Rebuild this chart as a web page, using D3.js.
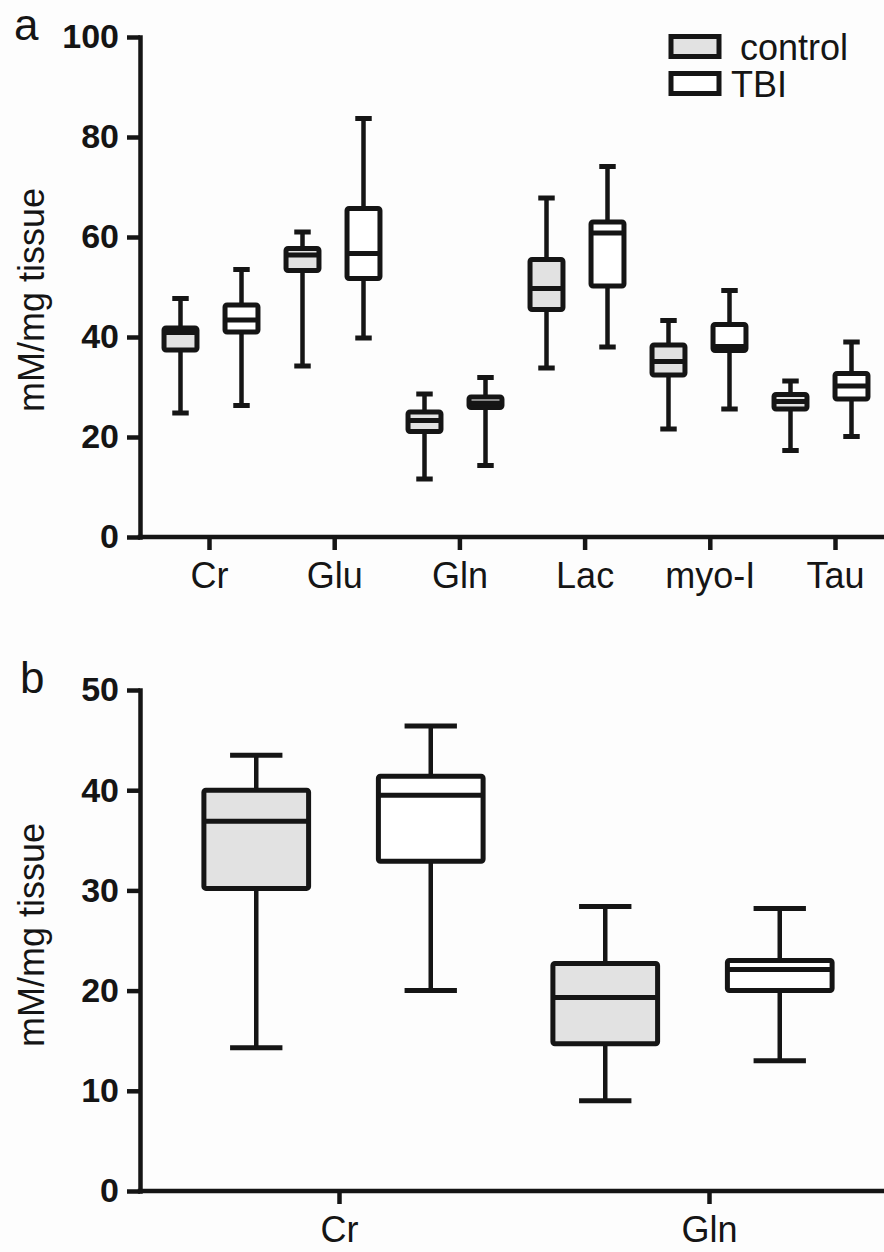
<!DOCTYPE html>
<html>
<head>
<meta charset="utf-8">
<script src="https://cdn.jsdelivr.net/npm/d3@7"></script>
<style>
  body { margin: 0; background: #fdfdfd; }
  svg { display: block; font-family: "Liberation Sans", Arial, sans-serif; }
  .axis path, .axis line { stroke: #151515; stroke-width: 4.5; }
  .axis .domain { stroke-linecap: square; }
  .y-axis text { font-size: 34px; font-weight: bold; fill: #151515; }
  .x-axis text { font-size: 36px; fill: #151515; }
  .axis-title { font-size: 36px; fill: #151515; }
  .panel-letter { font-size: 44px; fill: #151515; }
  .legend text { font-size: 36px; fill: #151515; }
</style>
</head>
<body>
<svg id="chart"></svg>
<script>
// each box is [min, q1, median, q3, max] in mM/mg tissue
const groups = ['control', 'TBI'];
const groupFill = { control: '#e2e2e2', TBI: '#ffffff' };

const categoriesA = ['Cr', 'Glu', 'Gln', 'Lac', 'myo-I', 'Tau'];
const controlA = [
  [24.8, 37.4, 40.9, 41.8, 47.7],
  [34.2, 53.3, 56.4, 57.7, 61.0],
  [11.6, 21.1, 23.3, 25.0, 28.6],
  [33.8, 45.5, 49.7, 55.5, 67.8],
  [21.6, 32.4, 35.1, 38.4, 43.3],
  [17.3, 25.6, 27.1, 28.5, 31.2]
];
const tbiA = [
  [26.3, 41.0, 43.4, 46.4, 53.5],
  [39.8, 51.7, 56.7, 65.7, 83.7],
  [14.3, 25.9, 26.8, 28.0, 31.9],
  [38.0, 50.2, 60.8, 63.0, 74.1],
  [25.6, 37.3, 38.1, 42.5, 49.3],
  [20.1, 27.6, 30.2, 32.7, 39.0]
];
const yTicksA = [0, 20, 40, 60, 80, 100];

const categoriesB = ['Cr', 'Gln'];
const controlB = [
  [14.3, 30.2, 36.9, 40.0, 43.5],
  [9.0, 14.7, 19.3, 22.7, 28.4]
];
const tbiB = [
  [20.0, 32.9, 39.5, 41.4, 46.4],
  [13.0, 20.0, 22.1, 23.0, 28.2]
];
const yTicksB = [0, 10, 20, 30, 40, 50];

class BoxPlot {

  constructor(_config, _data) {
    this.config = _config;
    this.data = _data;
    this.initVis();
  }

  initVis() {
    let vis = this;
    const c = vis.config;

    vis.chart = c.parentElement.append('g');

    vis.yScale = d3.scaleLinear()
      .domain(d3.extent(c.yTicks))
      .range([c.bottom, c.top]);

    // bands hold the box pairs, the point scale holds the category ticks
    vis.xBand = d3.scaleBand()
      .domain(c.categories)
      .range(c.bandRange);

    vis.xSub = d3.scaleBand()
      .domain(groups)
      .range([0, vis.xBand.bandwidth()]);

    vis.xTick = d3.scalePoint()
      .domain(c.categories)
      .range(c.tickRange);

    vis.boxWidth = vis.xSub.bandwidth() * c.boxRatio;

    vis.yAxis = d3.axisLeft(vis.yScale)
      .tickValues(c.yTicks)
      .tickSize(13)
      .tickSizeOuter(0)
      .tickPadding(8)
      .tickFormat(d3.format('d'));

    vis.xAxis = d3.axisBottom(vis.xTick)
      .tickSize(13)
      .tickSizeOuter(0)
      .tickPadding(12);

    vis.renderVis();
  }

  renderVis() {
    let vis = this;
    const c = vis.config;
    const y = vis.yScale;

    const boxes = [];
    c.categories.forEach((cat, i) => {
      groups.forEach(g => {
        const s = vis.data[g][i];
        boxes.push({
          group: g,
          cx: vis.xBand(cat) + vis.xSub(g) + vis.xSub.bandwidth() / 2,
          min: s[0], q1: s[1], median: s[2], q3: s[3], max: s[4]
        });
      });
    });

    const w = vis.boxWidth;
    const box = vis.chart.selectAll('.box')
      .data(boxes)
      .join('g')
      .attr('class', 'box')
      .attr('stroke', '#151515')
      .attr('stroke-width', 4.5);

    // whiskers
    box.append('line')
      .attr('x1', d => d.cx).attr('x2', d => d.cx)
      .attr('y1', d => y(d.max)).attr('y2', d => y(d.q3));
    box.append('line')
      .attr('x1', d => d.cx).attr('x2', d => d.cx)
      .attr('y1', d => y(d.q1)).attr('y2', d => y(d.min));
    box.append('line')
      .attr('stroke-width', 5)
      .attr('x1', d => d.cx - w / 4).attr('x2', d => d.cx + w / 4)
      .attr('y1', d => y(d.max)).attr('y2', d => y(d.max));
    box.append('line')
      .attr('stroke-width', 5)
      .attr('x1', d => d.cx - w / 4).attr('x2', d => d.cx + w / 4)
      .attr('y1', d => y(d.min)).attr('y2', d => y(d.min));

    box.append('rect')
      .attr('x', d => d.cx - w / 2)
      .attr('width', w)
      .attr('y', d => y(d.q3))
      .attr('height', d => y(d.q1) - y(d.q3))
      .attr('rx', 2)
      .attr('stroke-width', 5)
      .attr('stroke-linejoin', 'round')
      .attr('fill', d => groupFill[d.group]);

    box.append('line')
      .attr('stroke-width', 5)
      .attr('x1', d => d.cx - w / 2).attr('x2', d => d.cx + w / 2)
      .attr('y1', d => y(d.median)).attr('y2', d => y(d.median));

    // axes
    vis.chart.append('g')
      .attr('class', 'axis y-axis')
      .attr('transform', `translate(${c.left},0)`)
      .call(vis.yAxis);

    const xAxisG = vis.chart.append('g')
      .attr('class', 'axis x-axis')
      .attr('transform', `translate(0,${y(0)})`)
      .call(vis.xAxis);
    xAxisG.select('.domain')
      .attr('d', `M${c.left},0H${c.right}`);

    vis.chart.append('text')
      .attr('class', 'axis-title')
      .attr('transform', `translate(${c.titleX},${c.titleY}) rotate(-90)`)
      .attr('text-anchor', 'middle')
      .text('mM/mg tissue');

    vis.chart.append('text')
      .attr('class', 'panel-letter')
      .attr('x', c.letterX)
      .attr('y', c.letterY)
      .text(c.letter);
  }
}

const svg = d3.select('#chart')
  .attr('width', 884)
  .attr('height', 1252);

new BoxPlot({
  parentElement: svg,
  categories: categoriesA,
  yTicks: yTicksA,
  top: 37, bottom: 537, left: 140, right: 884,
  bandRange: [150, 882],
  tickRange: [209, 835],
  boxRatio: 0.54,
  titleX: 44, titleY: 300,
  letter: 'a', letterX: 14, letterY: 40
}, { control: controlA, TBI: tbiA });

new BoxPlot({
  parentElement: svg,
  categories: categoriesB,
  yTicks: yTicksB,
  top: 690, bottom: 1191, left: 140, right: 884,
  bandRange: [169, 867],
  tickRange: [339, 709],
  boxRatio: 0.6,
  titleX: 44, titleY: 935,
  letter: 'b', letterX: 20, letterY: 693
}, { control: controlB, TBI: tbiB });

// legend for panel a
const legend = svg.append('g').attr('class', 'legend');
const legendRows = legend.selectAll('g')
  .data(groups)
  .join('g')
  .attr('transform', (d, i) => `translate(671,${i === 0 ? 36.5 : 73.5})`);

legendRows.append('rect')
  .attr('width', 48)
  .attr('height', 20)
  .attr('fill', d => groupFill[d])
  .attr('stroke', '#151515')
  .attr('stroke-width', 5);

legendRows.append('text')
  .attr('x', (d, i) => i === 0 ? 69 : 60)
  .attr('y', 23.5)
  .text(d => d);
</script>
</body>
</html>
